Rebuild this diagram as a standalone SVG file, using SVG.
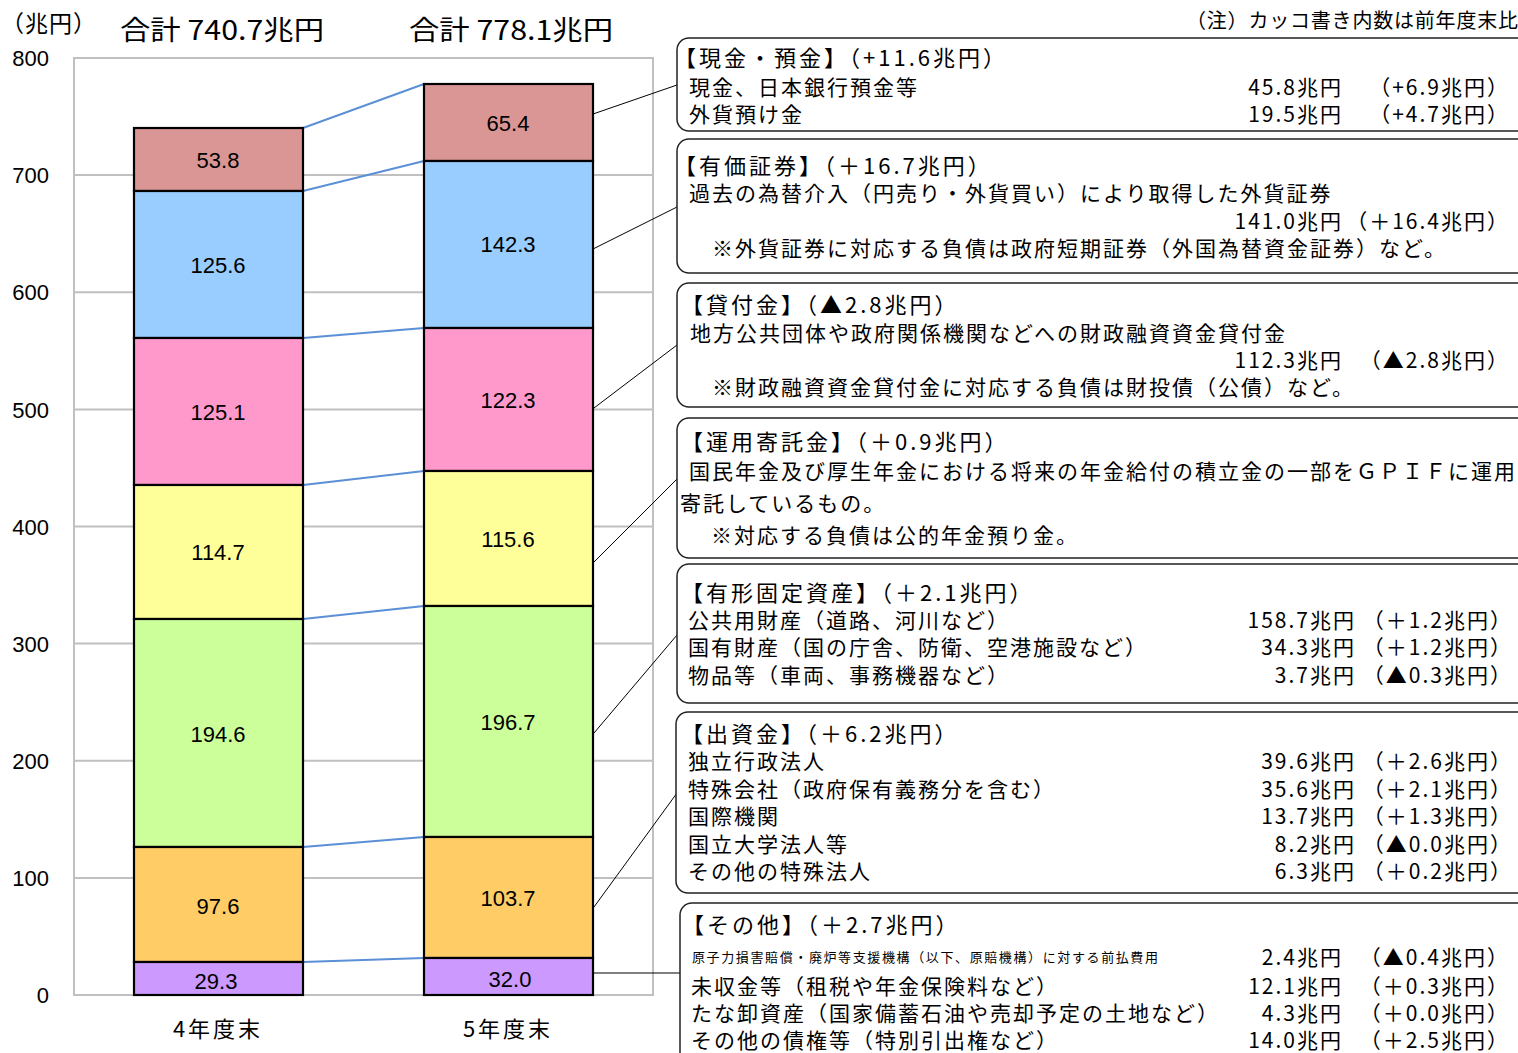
<svg xmlns="http://www.w3.org/2000/svg" width="1518" height="1053" viewBox="0 0 1518 1053">
<style>
.grid{stroke:#C0C0C0;stroke-width:2;fill:none}
.seg{stroke:#000;stroke-width:2.2}
.val{font-family:"Liberation Sans",Arial,sans-serif;font-size:22px;fill:#000;text-anchor:middle}
.ax{font-family:"Liberation Sans",Arial,sans-serif;font-size:22px;fill:#000;text-anchor:end}
.jp{font-family:"Noto Sans CJK JP","Noto Sans",sans-serif;fill:#000}
.ttl{font-size:27px}
.hd{font-size:22px;letter-spacing:3px}
.bd{font-size:21px;letter-spacing:2px}
.num{font-size:21px;letter-spacing:2px;text-anchor:end}
.chg{font-size:21px;letter-spacing:2px;text-anchor:end}
.box{fill:#fff;stroke:#222;stroke-width:1.5}
.blue{stroke:#5B8FD6;stroke-width:2}
.call{stroke:#000;stroke-width:1}
</style>
<rect width="1518" height="1053" fill="#fff"/>

<g id="axes">
<rect x="74" y="58" width="579" height="937" class="grid"/>
<path class="grid" d="M74 877.9H653M74 760.8H653M74 643.6H653M74 526.5H653M74 409.4H653M74 292.3H653M74 175.1H653"/>
<text class="ax" x="49" y="66">800</text>
<text class="ax" x="49" y="183">700</text>
<text class="ax" x="49" y="300">600</text>
<text class="ax" x="49" y="418">500</text>
<text class="ax" x="49" y="535">400</text>
<text class="ax" x="49" y="652">300</text>
<text class="ax" x="49" y="769">200</text>
<text class="ax" x="49" y="886">100</text>
<text class="ax" x="49" y="1003">0</text>
<text class="jp" x="1" y="32" font-size="23" letter-spacing="1">（兆円）</text>
<text class="jp" x="218" y="1037" font-size="22" letter-spacing="3" text-anchor="middle">4年度末</text>
<text class="jp" x="508" y="1037" font-size="22" letter-spacing="3" text-anchor="middle">5年度末</text>
</g>

<g id="titles">
<text class="jp ttl" x="120" y="40" textLength="204" lengthAdjust="spacingAndGlyphs">合計 740.7兆円</text>
<text class="jp ttl" x="409" y="40" textLength="204" lengthAdjust="spacingAndGlyphs">合計 778.1兆円</text>
<text class="jp" x="1186" y="28" font-size="20" textLength="332" lengthAdjust="spacing">（注）カッコ書き内数は前年度末比</text>
</g>

<g id="connectors">
<line class="blue" x1="303" y1="128" x2="424" y2="84"/>
<line class="blue" x1="303" y1="191" x2="424" y2="161"/>
<line class="blue" x1="303" y1="338" x2="424" y2="328"/>
<line class="blue" x1="303" y1="485" x2="424" y2="471"/>
<line class="blue" x1="303" y1="619" x2="424" y2="606"/>
<line class="blue" x1="303" y1="847" x2="424" y2="837"/>
<line class="blue" x1="303" y1="962" x2="424" y2="958"/>
<line class="call" x1="593" y1="114" x2="677" y2="85"/>
<line class="call" x1="593" y1="249" x2="677" y2="207"/>
<line class="call" x1="594" y1="408" x2="677" y2="345"/>
<line class="call" x1="594" y1="562" x2="677" y2="479"/>
<line class="call" x1="594" y1="733" x2="677" y2="635"/>
<line class="call" x1="594" y1="907" x2="677" y2="793"/>
<line class="call" x1="593" y1="973" x2="680" y2="973"/>
</g>

<g id="bar-r4">
<rect class="seg" x="134" y="128" width="169" height="63" fill="#D99694"/>
<rect class="seg" x="134" y="191" width="169" height="147" fill="#99CCFF"/>
<rect class="seg" x="134" y="338" width="169" height="147" fill="#FF99CC"/>
<rect class="seg" x="134" y="485" width="169" height="134" fill="#FFFF99"/>
<rect class="seg" x="134" y="619" width="169" height="228" fill="#CCFF99"/>
<rect class="seg" x="134" y="847" width="169" height="115" fill="#FFCC66"/>
<rect class="seg" x="134" y="962" width="169" height="33" fill="#CC99FF"/>
<text class="val" x="218" y="168">53.8</text>
<text class="val" x="218" y="273">125.6</text>
<text class="val" x="218" y="420">125.1</text>
<text class="val" x="218" y="560">114.7</text>
<text class="val" x="218" y="742">194.6</text>
<text class="val" x="218" y="914">97.6</text>
<text class="val" x="216" y="989">29.3</text>
</g>

<g id="bar-r5">
<rect class="seg" x="424" y="84" width="169" height="77" fill="#D99694"/>
<rect class="seg" x="424" y="161" width="169" height="167" fill="#99CCFF"/>
<rect class="seg" x="424" y="328" width="169" height="143" fill="#FF99CC"/>
<rect class="seg" x="424" y="471" width="169" height="135" fill="#FFFF99"/>
<rect class="seg" x="424" y="606" width="169" height="231" fill="#CCFF99"/>
<rect class="seg" x="424" y="837" width="169" height="121" fill="#FFCC66"/>
<rect class="seg" x="424" y="958" width="169" height="37" fill="#CC99FF"/>
<text class="val" x="508" y="131">65.4</text>
<text class="val" x="508" y="252">142.3</text>
<text class="val" x="508" y="408">122.3</text>
<text class="val" x="508" y="547">115.6</text>
<text class="val" x="508" y="730">196.7</text>
<text class="val" x="508" y="906">103.7</text>
<text class="val" x="510" y="987">32.0</text>
</g>

<g id="box-cash">
<rect class="box" x="677" y="38" width="870" height="93" rx="12"/>
<text class="jp hd" x="674" y="66" letter-spacing="2">【現金・預金】（+11.6兆円）</text>
<text class="jp bd" x="689" y="95">現金、日本銀行預金等</text>
<text class="jp bd" x="689" y="122">外貨預け金</text>
<text class="jp num" x="1343" y="95">45.8兆円</text>
<text class="jp chg" x="1510" y="95" letter-spacing="3">（+6.9兆円）</text>
<text class="jp num" x="1343" y="122">19.5兆円</text>
<text class="jp chg" x="1510" y="122" letter-spacing="3">（+4.7兆円）</text>
</g>

<g id="box-securities">
<rect class="box" x="677" y="139" width="870" height="134" rx="12"/>
<text class="jp hd" x="674" y="174">【有価証券】（＋16.7兆円）</text>
<text class="jp bd" x="689" y="201">過去の為替介入（円売り・外貨買い）により取得した外貨証券</text>
<text class="jp num" x="1343" y="229">141.0兆円</text>
<text class="jp chg" x="1510" y="229">（＋16.4兆円）</text>
<text class="jp bd" x="712" y="256">※外貨証券に対応する負債は政府短期証券（外国為替資金証券）など。</text>
</g>

<g id="box-loans">
<rect class="box" x="677" y="283" width="870" height="124" rx="12"/>
<text class="jp hd" x="681" y="313">【貸付金】（▲2.8兆円）</text>
<text class="jp bd" x="690" y="341">地方公共団体や政府関係機関などへの財政融資資金貸付金</text>
<text class="jp num" x="1343" y="368">112.3兆円</text>
<text class="jp chg" x="1510" y="368">（▲2.8兆円）</text>
<text class="jp bd" x="712" y="395">※財政融資資金貸付金に対応する負債は財投債（公債）など。</text>
</g>

<g id="box-deposit">
<rect class="box" x="677" y="418" width="870" height="140" rx="12"/>
<text class="jp hd" x="681" y="450">【運用寄託金】（＋0.9兆円）</text>
<text class="jp bd" x="689" y="479">国民年金及び厚生年金における将来の年金給付の積立金の一部をＧＰＩＦに運用</text>
<text class="jp bd" x="680" y="511">寄託しているもの。</text>
<text class="jp bd" x="711" y="543">※対応する負債は公的年金預り金。</text>
</g>

<g id="box-fixed">
<rect class="box" x="677" y="564" width="870" height="139" rx="12"/>
<text class="jp hd" x="681" y="601">【有形固定資産】（＋2.1兆円）</text>
<text class="jp bd" x="688" y="628">公共用財産（道路、河川など）</text>
<text class="jp bd" x="688" y="655">国有財産（国の庁舎、防衛、空港施設など）</text>
<text class="jp bd" x="688" y="683">物品等（車両、事務機器など）</text>
<text class="jp num" x="1356" y="628">158.7兆円</text>
<text class="jp chg" x="1513" y="628">（＋1.2兆円）</text>
<text class="jp num" x="1356" y="655">34.3兆円</text>
<text class="jp chg" x="1513" y="655">（＋1.2兆円）</text>
<text class="jp num" x="1356" y="683">3.7兆円</text>
<text class="jp chg" x="1513" y="683">（▲0.3兆円）</text>
</g>

<g id="box-investment">
<rect class="box" x="676" y="712" width="870" height="181" rx="12"/>
<text class="jp hd" x="681" y="742">【出資金】（＋6.2兆円）</text>
<text class="jp bd" x="688" y="769">独立行政法人</text>
<text class="jp bd" x="688" y="797">特殊会社（政府保有義務分を含む）</text>
<text class="jp bd" x="688" y="824">国際機関</text>
<text class="jp bd" x="688" y="852">国立大学法人等</text>
<text class="jp bd" x="688" y="879">その他の特殊法人</text>
<text class="jp num" x="1356" y="769">39.6兆円</text>
<text class="jp chg" x="1513" y="769">（＋2.6兆円）</text>
<text class="jp num" x="1356" y="797">35.6兆円</text>
<text class="jp chg" x="1513" y="797">（＋2.1兆円）</text>
<text class="jp num" x="1356" y="824">13.7兆円</text>
<text class="jp chg" x="1513" y="824">（＋1.3兆円）</text>
<text class="jp num" x="1356" y="852">8.2兆円</text>
<text class="jp chg" x="1513" y="852">（▲0.0兆円）</text>
<text class="jp num" x="1356" y="879">6.3兆円</text>
<text class="jp chg" x="1513" y="879">（＋0.2兆円）</text>
</g>

<g id="box-other">
<rect class="box" x="680" y="903" width="870" height="170" rx="12"/>
<text class="jp hd" x="682" y="933">【その他】（＋2.7兆円）</text>
<text class="jp" x="692" y="962" font-size="13" textLength="466" lengthAdjust="spacing">原子力損害賠償・廃炉等支援機構（以下、原賠機構）に対する前払費用</text>
<text class="jp bd" x="691" y="994">未収金等（租税や年金保険料など）</text>
<text class="jp bd" x="691" y="1021">たな卸資産（国家備蓄石油や売却予定の土地など）</text>
<text class="jp bd" x="691" y="1048">その他の債権等（特別引出権など）</text>
<text class="jp num" x="1343" y="965">2.4兆円</text>
<text class="jp chg" x="1510" y="965">（▲0.4兆円）</text>
<text class="jp num" x="1343" y="994">12.1兆円</text>
<text class="jp chg" x="1510" y="994">（＋0.3兆円）</text>
<text class="jp num" x="1343" y="1021">4.3兆円</text>
<text class="jp chg" x="1510" y="1021">（＋0.0兆円）</text>
<text class="jp num" x="1343" y="1048">14.0兆円</text>
<text class="jp chg" x="1510" y="1048">（＋2.5兆円）</text>
</g>
</svg>
